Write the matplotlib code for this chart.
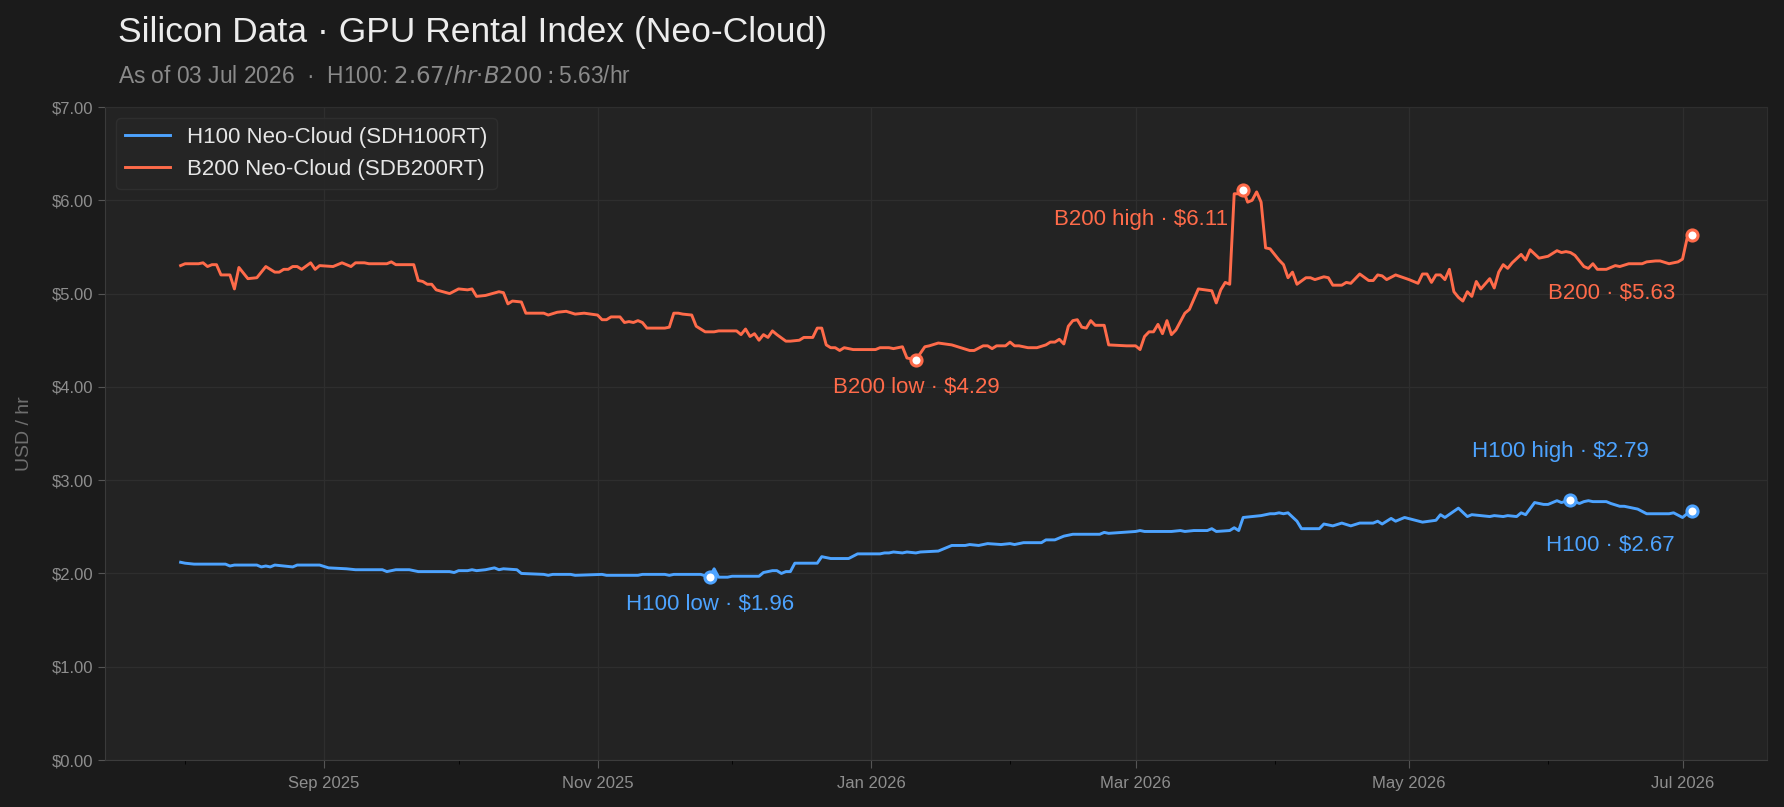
import matplotlib
matplotlib.use("Agg")
from matplotlib import pyplot as plt
import matplotlib.dates as mdates
import pandas as pd

plt.rcParams['font.family'] = ['Liberation Sans', 'DejaVu Sans']

# B200 Neo-Cloud (SDB200RT) readings
b200_dates = [
    "2025-07-31", "2025-08-01", "2025-08-04", "2025-08-05", "2025-08-06", "2025-08-07", "2025-08-08",
    "2025-08-09", "2025-08-11", "2025-08-12", "2025-08-13", "2025-08-15", "2025-08-17", "2025-08-19",
    "2025-08-21", "2025-08-22", "2025-08-23", "2025-08-24", "2025-08-25", "2025-08-26", "2025-08-27",
    "2025-08-29", "2025-08-30", "2025-08-31", "2025-09-03", "2025-09-05", "2025-09-07", "2025-09-08",
    "2025-09-10", "2025-09-11", "2025-09-13", "2025-09-15", "2025-09-16", "2025-09-17", "2025-09-21",
    "2025-09-22", "2025-09-23", "2025-09-24", "2025-09-25", "2025-09-26", "2025-09-29", "2025-10-01",
    "2025-10-03", "2025-10-04", "2025-10-05", "2025-10-07", "2025-10-10", "2025-10-11", "2025-10-12",
    "2025-10-13", "2025-10-15", "2025-10-16", "2025-10-20", "2025-10-21", "2025-10-23", "2025-10-25",
    "2025-10-27", "2025-10-29", "2025-11-01", "2025-11-02", "2025-11-03", "2025-11-04", "2025-11-06",
    "2025-11-07", "2025-11-08", "2025-11-09", "2025-11-10", "2025-11-11", "2025-11-12", "2025-11-16",
    "2025-11-17", "2025-11-18", "2025-11-19", "2025-11-20", "2025-11-22", "2025-11-23", "2025-11-25",
    "2025-11-27", "2025-11-28", "2025-12-01", "2025-12-02", "2025-12-03", "2025-12-04", "2025-12-05",
    "2025-12-06", "2025-12-07", "2025-12-08", "2025-12-09", "2025-12-10", "2025-12-11", "2025-12-13",
    "2025-12-14", "2025-12-16", "2025-12-17", "2025-12-19", "2025-12-20", "2025-12-21", "2025-12-22",
    "2025-12-23", "2025-12-24", "2025-12-25", "2025-12-26", "2025-12-28", "2026-01-02", "2026-01-03",
    "2026-01-05", "2026-01-06", "2026-01-08", "2026-01-09", "2026-01-11", "2026-01-13", "2026-01-14",
    "2026-01-16", "2026-01-19", "2026-01-21", "2026-01-23", "2026-01-24", "2026-01-26", "2026-01-27",
    "2026-01-28", "2026-01-29", "2026-01-31", "2026-02-01", "2026-02-02", "2026-02-03", "2026-02-05",
    "2026-02-07", "2026-02-09", "2026-02-10", "2026-02-11", "2026-02-12", "2026-02-13", "2026-02-14",
    "2026-02-15", "2026-02-16", "2026-02-17", "2026-02-18", "2026-02-19", "2026-02-20", "2026-02-22",
    "2026-02-23", "2026-02-27", "2026-03-01", "2026-03-02", "2026-03-03", "2026-03-04", "2026-03-05",
    "2026-03-06", "2026-03-07", "2026-03-08", "2026-03-09", "2026-03-10", "2026-03-12", "2026-03-13",
    "2026-03-15", "2026-03-18", "2026-03-19", "2026-03-20", "2026-03-21", "2026-03-22", "2026-03-23",
    "2026-03-24", "2026-03-25", "2026-03-26", "2026-03-27", "2026-03-28", "2026-03-29", "2026-03-30",
    "2026-03-31", "2026-04-02", "2026-04-03", "2026-04-04", "2026-04-05", "2026-04-06", "2026-04-08",
    "2026-04-09", "2026-04-10", "2026-04-12", "2026-04-13", "2026-04-14", "2026-04-16", "2026-04-17",
    "2026-04-18", "2026-04-20", "2026-04-22", "2026-04-23", "2026-04-24", "2026-04-25", "2026-04-26",
    "2026-04-28", "2026-05-01", "2026-05-03", "2026-05-04", "2026-05-05", "2026-05-06", "2026-05-07",
    "2026-05-08", "2026-05-09", "2026-05-10", "2026-05-11", "2026-05-12", "2026-05-13", "2026-05-14",
    "2026-05-15", "2026-05-16", "2026-05-17", "2026-05-19", "2026-05-20", "2026-05-21", "2026-05-22",
    "2026-05-23", "2026-05-24", "2026-05-26", "2026-05-27", "2026-05-28", "2026-05-30", "2026-06-01",
    "2026-06-03", "2026-06-04", "2026-06-05", "2026-06-06", "2026-06-07", "2026-06-09", "2026-06-10",
    "2026-06-11", "2026-06-12", "2026-06-14", "2026-06-16", "2026-06-17", "2026-06-19", "2026-06-22",
    "2026-06-23", "2026-06-25", "2026-06-26", "2026-06-28", "2026-06-30", "2026-07-01", "2026-07-02",
    "2026-07-03",
]
b200_vals = [
    5.30, 5.32, 5.32, 5.33, 5.29, 5.31, 5.31,
    5.20, 5.20, 5.05, 5.28, 5.16, 5.17, 5.29,
    5.23, 5.23, 5.26, 5.26, 5.29, 5.29, 5.26,
    5.33, 5.26, 5.30, 5.29, 5.33, 5.29, 5.33,
    5.33, 5.32, 5.32, 5.32, 5.34, 5.31, 5.31,
    5.14, 5.13, 5.10, 5.10, 5.04, 5.00, 5.05,
    5.04, 5.05, 4.97, 4.98, 5.02, 5.01, 4.89,
    4.92, 4.91, 4.79, 4.79, 4.77, 4.80, 4.81,
    4.78, 4.79, 4.77, 4.72, 4.72, 4.75, 4.75,
    4.69, 4.70, 4.69, 4.71, 4.69, 4.63, 4.63,
    4.64, 4.79, 4.79, 4.78, 4.77, 4.65, 4.59,
    4.59, 4.60, 4.60, 4.60, 4.56, 4.62, 4.54,
    4.57, 4.50, 4.56, 4.53, 4.60, 4.56, 4.49,
    4.49, 4.50, 4.53, 4.53, 4.63, 4.63, 4.45,
    4.42, 4.42, 4.39, 4.42, 4.40, 4.40, 4.42,
    4.42, 4.41, 4.43, 4.31, 4.29, 4.43, 4.44,
    4.47, 4.45, 4.42, 4.39, 4.39, 4.44, 4.44,
    4.41, 4.44, 4.44, 4.48, 4.44, 4.44, 4.42,
    4.42, 4.45, 4.48, 4.48, 4.51, 4.46, 4.65,
    4.71, 4.72, 4.64, 4.63, 4.71, 4.66, 4.66,
    4.45, 4.44, 4.44, 4.40, 4.54, 4.59, 4.59,
    4.67, 4.57, 4.71, 4.56, 4.61, 4.79, 4.83,
    5.05, 5.03, 4.90, 5.04, 5.12, 5.10, 6.07,
    6.07, 6.11, 5.98, 6.00, 6.09, 5.98, 5.49,
    5.48, 5.36, 5.31, 5.17, 5.23, 5.10, 5.17,
    5.17, 5.15, 5.18, 5.17, 5.09, 5.09, 5.12,
    5.11, 5.21, 5.14, 5.14, 5.20, 5.19, 5.15,
    5.20, 5.15, 5.11, 5.21, 5.21, 5.12, 5.20,
    5.20, 5.15, 5.26, 5.02, 4.96, 4.92, 5.02,
    4.97, 5.13, 5.05, 5.16, 5.06, 5.23, 5.31,
    5.27, 5.33, 5.42, 5.36, 5.47, 5.38, 5.40,
    5.46, 5.44, 5.45, 5.44, 5.41, 5.29, 5.27,
    5.32, 5.26, 5.26, 5.30, 5.29, 5.32, 5.32,
    5.34, 5.35, 5.35, 5.32, 5.34, 5.37, 5.59,
    5.63,
]

# H100 Neo-Cloud (SDH100RT) readings
h100_dates = [
    "2025-07-31", "2025-08-01", "2025-08-03", "2025-08-10", "2025-08-11", "2025-08-12", "2025-08-17",
    "2025-08-18", "2025-08-19", "2025-08-20", "2025-08-21", "2025-08-23", "2025-08-25", "2025-08-26",
    "2025-08-31", "2025-09-02", "2025-09-06", "2025-09-08", "2025-09-14", "2025-09-15", "2025-09-17",
    "2025-09-20", "2025-09-22", "2025-09-29", "2025-09-30", "2025-10-01", "2025-10-03", "2025-10-04",
    "2025-10-05", "2025-10-07", "2025-10-09", "2025-10-10", "2025-10-11", "2025-10-14", "2025-10-15",
    "2025-10-20", "2025-10-21", "2025-10-22", "2025-10-26", "2025-10-27", "2025-11-02", "2025-11-03",
    "2025-11-10", "2025-11-11", "2025-11-16", "2025-11-17", "2025-11-18", "2025-11-24", "2025-11-26",
    "2025-11-27", "2025-11-28", "2025-11-30", "2025-12-01", "2025-12-03", "2025-12-07", "2025-12-08",
    "2025-12-10", "2025-12-11", "2025-12-12", "2025-12-13", "2025-12-14", "2025-12-15", "2025-12-20",
    "2025-12-21", "2025-12-23", "2025-12-27", "2025-12-29", "2026-01-03", "2026-01-04", "2026-01-05",
    "2026-01-06", "2026-01-08", "2026-01-09", "2026-01-11", "2026-01-12", "2026-01-16", "2026-01-19",
    "2026-01-22", "2026-01-23", "2026-01-25", "2026-01-27", "2026-01-30", "2026-02-01", "2026-02-02",
    "2026-02-04", "2026-02-08", "2026-02-09", "2026-02-11", "2026-02-13", "2026-02-15", "2026-02-21",
    "2026-02-22", "2026-02-23", "2026-03-01", "2026-03-02", "2026-03-03", "2026-03-09", "2026-03-11",
    "2026-03-12", "2026-03-14", "2026-03-17", "2026-03-18", "2026-03-19", "2026-03-22", "2026-03-23",
    "2026-03-24", "2026-03-25", "2026-03-27", "2026-03-29", "2026-03-31", "2026-04-01", "2026-04-02",
    "2026-04-03", "2026-04-04", "2026-04-06", "2026-04-07", "2026-04-08", "2026-04-11", "2026-04-12",
    "2026-04-14", "2026-04-16", "2026-04-18", "2026-04-20", "2026-04-23", "2026-04-24", "2026-04-25",
    "2026-04-27", "2026-04-28", "2026-04-30", "2026-05-04", "2026-05-07", "2026-05-08", "2026-05-09",
    "2026-05-12", "2026-05-14", "2026-05-15", "2026-05-19", "2026-05-20", "2026-05-22", "2026-05-23",
    "2026-05-25", "2026-05-26", "2026-05-27", "2026-05-29", "2026-05-31", "2026-06-01", "2026-06-03",
    "2026-06-04", "2026-06-06", "2026-06-08", "2026-06-09", "2026-06-10", "2026-06-11", "2026-06-13",
    "2026-06-14", "2026-06-15", "2026-06-17", "2026-06-18", "2026-06-19", "2026-06-21", "2026-06-23",
    "2026-06-28", "2026-06-29", "2026-07-01", "2026-07-02", "2026-07-03",
]
h100_vals = [
    2.12, 2.11, 2.10, 2.10, 2.08, 2.09, 2.09,
    2.07, 2.08, 2.07, 2.09, 2.08, 2.07, 2.09,
    2.09, 2.06, 2.05, 2.04, 2.04, 2.02, 2.04,
    2.04, 2.02, 2.02, 2.01, 2.03, 2.03, 2.04,
    2.03, 2.04, 2.06, 2.04, 2.05, 2.04, 2.00,
    1.99, 1.98, 1.99, 1.99, 1.98, 1.99, 1.98,
    1.98, 1.99, 1.99, 1.98, 1.99, 1.99, 1.96,
    2.05, 1.96, 1.96, 1.97, 1.97, 1.97, 2.01,
    2.03, 2.03, 2.00, 2.02, 2.02, 2.11, 2.11,
    2.18, 2.16, 2.16, 2.21, 2.21, 2.22, 2.22,
    2.23, 2.22, 2.23, 2.22, 2.23, 2.24, 2.30,
    2.30, 2.31, 2.30, 2.32, 2.31, 2.32, 2.31,
    2.33, 2.33, 2.36, 2.36, 2.40, 2.42, 2.42,
    2.44, 2.43, 2.45, 2.46, 2.45, 2.45, 2.46,
    2.45, 2.46, 2.46, 2.48, 2.45, 2.46, 2.49,
    2.46, 2.60, 2.61, 2.62, 2.64, 2.64, 2.65,
    2.64, 2.65, 2.56, 2.48, 2.48, 2.48, 2.53,
    2.51, 2.54, 2.51, 2.54, 2.54, 2.56, 2.53,
    2.59, 2.56, 2.60, 2.55, 2.57, 2.63, 2.60,
    2.70, 2.61, 2.63, 2.61, 2.62, 2.61, 2.62,
    2.61, 2.65, 2.63, 2.76, 2.74, 2.74, 2.78,
    2.76, 2.79, 2.75, 2.77, 2.78, 2.77, 2.77,
    2.77, 2.75, 2.72, 2.72, 2.71, 2.69, 2.64,
    2.64, 2.65, 2.60, 2.64, 2.67,
]

h100 = pd.Series(h100_vals, index=pd.to_datetime(h100_dates))
b200 = pd.Series(b200_vals, index=pd.to_datetime(b200_dates))

H_COL = "#4da3ff"
B_COL = "#ff6b4a"
BG = "#1b1b1b"
AX_BG = "#232323"

fig = plt.figure(figsize=(17.84, 8.07), dpi=100, facecolor=BG)
ax = fig.add_axes([0.0589, 0.0582, 0.9316, 0.8092], facecolor=AX_BG)

ax.plot(h100.index, h100.values, color=H_COL, lw=2.1, label="H100 Neo-Cloud (SDH100RT)")
ax.plot(b200.index, b200.values, color=B_COL, lw=2.1, label="B200 Neo-Cloud (SDB200RT)")

# markers + labels for low / high / latest
def mark(s, when, color, text, dx, dy, ha):
    ax.plot([when], [s[when]], "o", ms=8, mfc="white", mec=color, mew=2.2, zorder=5)
    ax.annotate(text, (when, s[when]), xytext=(dx, dy), textcoords="offset points",
                ha=ha, va="center", color=color, fontsize=16)

mark(b200, b200.idxmin(), B_COL, "B200 low · \\$%.2f" % b200.min(), 0, -20, "center")
mark(b200, b200.idxmax(), B_COL, "B200 high · \\$%.2f" % b200.max(), -11, -21, "right")
mark(b200, b200.index[-1], B_COL, "B200 · \\$%.2f" % b200.iloc[-1], -12, -42, "right")
mark(h100, h100.idxmin(), H_COL, "H100 low · \\$%.2f" % h100.min(), 0, -20, "center")
mark(h100, h100.idxmax(), H_COL, "H100 high · \\$%.2f" % h100.max(), -7, 35, "center")
mark(h100, h100.index[-1], H_COL, "H100 · \\$%.2f" % h100.iloc[-1], -12, -25, "right")

ax.set_ylim(0, 7)
ax.yaxis.set_major_formatter(matplotlib.ticker.FuncFormatter(lambda v, p: "$%.2f" % v))
ax.xaxis.set_major_locator(mdates.MonthLocator(bymonth=[1, 3, 5, 7, 9, 11]))
ax.xaxis.set_minor_locator(mdates.MonthLocator())
ax.xaxis.set_major_formatter(mdates.DateFormatter("%b %Y"))

ax.tick_params(axis="both", colors="#555555", labelcolor="#8e8e8e", labelsize=12)
ax.tick_params(axis="x", which="major", length=6, pad=5.5)
ax.tick_params(axis="x", which="minor", length=3)
ax.tick_params(axis="y", length=5)
ax.grid(True, color="#2e2e2e", lw=0.9)
ax.set_axisbelow(True)
for side in ax.spines:
    ax.spines[side].set_color("#2e2e2e")
ax.spines["left"].set_color("#3a3a3a")
ax.spines["bottom"].set_color("#3c3c3c")

ax.set_ylabel("USD / hr", color="#6f6f6f", fontsize=14)
ax.yaxis.set_label_coords(-0.0435, 0.5)

leg = ax.legend(loc="upper left", fontsize=16, frameon=True, facecolor="#262626",
                edgecolor="#2f2f2f", labelcolor="#e6e6e6", framealpha=0.95,
                borderaxespad=0.5, handlelength=2.0)

fig.text(0.0661, 0.960, "Silicon Data · GPU Rental Index (Neo-Cloud)", color="#ececec",
         fontsize=25.5, va="center", ha="left")
fig.text(0.0661, 0.9058, "As of 03 Jul 2026  ·  H100: $2.67/hr · B200: $5.63/hr", color="#8a8a8a",
         fontsize=16.4, va="center", ha="left")

fig.savefig("out.png", dpi=100, facecolor=BG)
